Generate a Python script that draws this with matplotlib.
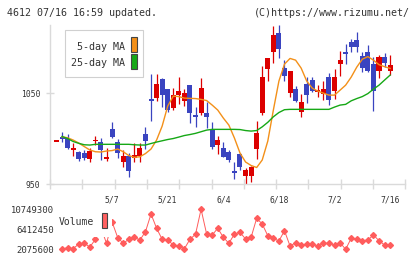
import numpy as np
import matplotlib.pyplot as plt
from matplotlib.patches import Rectangle

W, H = 420, 259
nan = np.nan

# daily candles (61 sessions, last one = 7/16)
opens = [997.0, 1002.1, 1001.0, 988.0, 985.3, 984.2, 977.9, 997.9, 996.3, 977.6,
         1010.6, 996.3, 974.6, 980.9, 979.0, 980.9, 1005.1, 1043.7, 1045.2, 1065.8,
         1054.4, 1034.1, 1048.1, 1042.0, 1059.1, 1026.1, 1028.6, 1028.6, 1009.5, 993.0,
         990.0, 985.6, 964.3, 982.7, 958.8, 958.8, 988.3, 1027.9, 1076.8, 1095.9,
         1116.8, 1078.4, 1050.0, 1054.4, 1029.7, 1060.3, 1064.7, 1051.8, 1049.2, 1067.7,
         1052.9, 1082.3, 1095.5, 1106.6, 1108.8, 1091.1, 1095.2, 1082.3, 1074.9, 1089.7,
         1074.9]
highs = [997.4, 1007.3, 1005.5, 994.9, 986.7, 987.5, 989.3, 1002.9, 1000.7, 989.3,
         1018.4, 999.3, 987.5, 983.8, 994.9, 994.9, 1013.2, 1070.9, 1070.9, 1066.9,
         1054.4, 1055.5, 1067.9, 1054.4, 1059.1, 1035.2, 1066.5, 1040.7, 1018.7, 1002.9,
         996.6, 987.5, 974.6, 983.8, 967.3, 969.8, 1019.5, 1080.1, 1089.2, 1124.2,
         1125.3, 1086.7, 1074.6, 1058.0, 1049.2, 1068.3, 1068.3, 1059.1, 1063.6, 1072.1,
         1076.5, 1096.6, 1104.4, 1109.5, 1117.3, 1095.9, 1103.2, 1090.3, 1092.2, 1094.8,
         1092.2]
lows = [997.4, 996.3, 988.6, 981.2, 975.7, 976.5, 974.6, 992.7, 976.5, 975.4,
        1000.7, 979.0, 969.1, 958.0, 974.6, 974.6, 989.0, 1019.8, 1041.5, 1035.2,
        1029.7, 1031.6, 1038.0, 1036.0, 1016.9, 1013.2, 1026.1, 1011.4, 988.3, 983.1,
        979.4, 974.6, 955.2, 965.4, 948.9, 952.5, 977.2, 1026.1, 1063.6, 1083.7,
        1089.2, 1063.6, 1046.2, 1040.8, 1024.2, 1039.6, 1051.8, 1045.6, 1042.6, 1037.1,
        1043.7, 1069.4, 1082.3, 1095.9, 1095.9, 1073.8, 1073.1, 1030.8, 1066.5, 1079.3,
        1070.2]
closes = [997.5, 999.6, 990.0, 988.6, 977.9, 979.0, 986.0, 998.5, 987.5, 979.8,
          1001.5, 984.5, 980.9, 964.7, 982.3, 990.0, 997.7, 1041.8, 1060.3, 1048.1,
          1031.6, 1048.1, 1052.9, 1050.8, 1027.9, 1024.2, 1055.5, 1024.2, 991.1, 998.5,
          980.1, 976.5, 961.8, 969.1, 965.4, 969.1, 1005.9, 1068.3, 1089.2, 1114.3,
          1098.5, 1069.4, 1074.6, 1041.9, 1040.8, 1048.1, 1052.9, 1053.6, 1054.4, 1042.6,
          1067.7, 1086.7, 1093.3, 1101.6, 1101.4, 1078.4, 1074.9, 1052.9, 1089.7, 1083.8,
          1081.2]

ma5 = [nan, 1002.1, 1001.0, 998.5, 995.2, 991.3, 987.5, 985.6, 985.3, 986.4,
       986.9, 988.6, 985.6, 981.4, 979.4, 980.1, 983.6, 988.6, 998.5, 1013.9,
       1036.0, 1047.0, 1046.5, 1044.8, 1044.5, 1044.3, 1043.4, 1042.1, 1037.1, 1031.6,
       1022.8, 1015.0, 1000.7, 984.2, 974.3, 970.4, 968.2, 976.5, 997.4, 1031.6,
       1063.6, 1082.3, 1088.6, 1086.7, 1077.9, 1063.6, 1055.8, 1052.5, 1050.3, 1048.1,
       1048.1, 1053.6, 1059.1, 1068.0, 1079.0, 1087.8, 1090.6, 1086.7, 1081.7, 1079.5,
       1077.6]
ma25 = [nan, 1002.4, 1000.2, 996.9, 994.9, 993.3, 993.0, 993.8, 993.8, 993.8,
        993.8, 993.8, 993.8, 993.8, 993.3, 993.0, 993.0, 994.7, 996.3, 997.7,
        999.1, 1000.2, 1001.8, 1003.5, 1004.6, 1005.9, 1007.7, 1009.5, 1010.3, 1010.3,
        1010.3, 1010.3, 1010.3, 1010.1, 1009.0, 1008.4, 1009.0, 1013.1, 1018.1, 1024.2,
        1028.9, 1032.0, 1032.4, 1032.4, 1032.4, 1032.4, 1032.4, 1032.4, 1032.4, 1032.4,
        1034.9, 1037.1, 1037.9, 1041.8, 1044.3, 1046.5, 1049.8, 1054.7, 1059.1, 1064.7,
        1070.2]

volume = [nan, 2140000, 2422500, 2205700, 3224900, 3376700, 2574300, 4244000, 6694300, 3376700,
          7995400, 4634300, 3376700, 4244000, 4677700, 4092200, 5892000, 9730100, 6629300, 4244000,
          4092200, 3008000, 2791200, 2205700, 4244000, 5328200, 10749300, 5393300, 5176500, 6629300,
          4677700, 3376700, 5393300, 5761900, 4309100, 4677700, 8797700, 7561700, 5024700, 4460900,
          3875400, 6108900, 2791200, 3506800, 3008000, 3224900, 3159800, 2791200, 3376700, 3376700,
          3008000, 3506800, 2075600, 4460900, 4309100, 3940500, 4092200, 5176500, 3940500, 3008000,
          3008000]

date_labels = ['5/7', '5/21', '6/4', '6/18', '7/2', '7/16']
date_idx = [10, 20, 30, 40, 50, 60]
price_ticks = [950, 1050]

UP = '#dc0000'
DOWN = '#3a44c0'
GRID = '#dadada'
TXT = '#333333'
MONO = 'DejaVu Sans Mono'


def fpos(x, y):
    # pixel position -> figure fraction
    return x / W, 1 - y / H


fig = plt.figure(figsize=(W / 100, H / 100), dpi=100)
fig.patch.set_facecolor('white')

x = np.arange(len(opens))
xlim = (-1.17, 62.73)

ax = fig.add_axes([50 / W, 1 - 184 / H, 355.3 / W, 159 / H])
for i in x:
    o, h, l, c = opens[i], highs[i], lows[i], closes[i]
    col = UP if c >= o else DOWN
    ax.vlines(i, l, h, color=col, lw=0.9, zorder=2)
    lo, hi = min(o, c), max(o, c)
    if hi - lo < 1.8:
        mid = (hi + lo) / 2
        lo, hi = mid - 0.9, mid + 0.9
    ax.add_patch(Rectangle((i - 0.45, lo), 0.9, hi - lo, fc=col, ec='none', zorder=3))

ax.plot(x, ma5, color='#f39019', lw=1.0, zorder=4)
ax.plot(x, ma25, color='#16a816', lw=1.0, zorder=4)

ax.set_xlim(*xlim)
ax.set_ylim(950, 1125.5)
for s in ['top', 'right']:
    ax.spines[s].set_visible(False)
for s in ['left', 'bottom']:
    ax.spines[s].set_color(GRID)
    ax.spines[s].set_linewidth(1.0)

ax.set_xticks(np.linspace(xlim[0], xlim[1], 12))
ax.set_xticklabels([])
ax.set_xticks(date_idx, minor=True)
ax.set_xticklabels(date_labels, minor=True)
ax.tick_params(axis='x', which='major', direction='inout', length=6.5, width=1.0, color=GRID)
ax.tick_params(axis='x', which='minor', length=0, pad=8, labelsize=5.8, labelcolor=TXT)
ax.set_yticks(price_ticks)
ax.set_yticklabels([str(p) for p in price_ticks])
ax.tick_params(axis='y', direction='inout', length=6, width=1.0, color=GRID,
               labelsize=5.8, labelcolor=TXT, pad=4)
for lab in ax.get_xticklabels(minor=True) + ax.get_yticklabels():
    lab.set_family(MONO)

# volume panel
vmin, vmax = np.nanmin(volume), np.nanmax(volume)
vax = fig.add_axes([50 / W, 1 - 249.3 / H, 355.3 / W, 40 / H])
vax.plot(x, volume, color='#ff5c5c', lw=0.7, marker='D', ms=3.0, mec='#ff5c5c',
         mfc='#ff5c5c', clip_on=False)
vax.set_xlim(*xlim)
vax.set_ylim(vmin, vmax)
for s in vax.spines.values():
    s.set_visible(False)
vax.set_xticks([])
vticks = [vmin, (vmin + vmax) / 2, vmax]
vax.set_yticks(vticks)
vax.set_yticklabels([f'{int(v)}' for v in vticks])
vax.tick_params(axis='y', length=0, pad=-2.6, labelsize=6.4, labelcolor=TXT)
for lab in vax.get_yticklabels():
    lab.set_family(MONO)
    lab.set_horizontalalignment('right')

# volume legend
x0, y0 = fpos(55, 237)
x1, y1 = fpos(112, 210)
fig.add_artist(Rectangle((x0, y0), x1 - x0, y1 - y0, transform=fig.transFigure,
                         fc='white', ec='none', zorder=5))
fig.text(*fpos(58.5, 221.7), 'Volume', ha='left', va='center', fontsize=7,
         family=MONO, color=TXT, zorder=6)
bx0, by0 = fpos(101.7, 228.3)
bx1, by1 = fpos(107.3, 213.3)
fig.add_artist(Rectangle((bx0, by0), bx1 - bx0, by1 - by0, transform=fig.transFigure,
                         fc='#ff6060', ec='#444444', lw=0.8, zorder=6))

# MA legend
lx0, ly0 = fpos(65, 77)
lx1, ly1 = fpos(143, 30)
fig.add_artist(Rectangle((lx0, ly0), lx1 - lx0, ly1 - ly0, transform=fig.transFigure,
                         fc='white', ec='#d0d0d0', lw=0.8, zorder=5))
for label, col, ty, top, bot in [('5-day MA', '#f39019', 46.7, 37, 52),
                                 ('25-day MA', '#16a816', 63.3, 54, 69)]:
    fig.text(*fpos(125, ty), label, ha='right', va='center', fontsize=7.2,
             family=MONO, color=TXT, zorder=6)
    rx0, ry0 = fpos(131, bot)
    rx1, ry1 = fpos(137, top)
    fig.add_artist(Rectangle((rx0, ry0), rx1 - rx0, ry1 - ry0, transform=fig.transFigure,
                             fc=col, ec='#444444', lw=0.8, zorder=6))

fig.text(*fpos(7, 13), '4612 07/16 16:59 updated.', ha='left', va='center',
         fontsize=7.2, family=MONO, color=TXT)
fig.text(*fpos(409.5, 13), '(C)https://www.rizumu.net/', ha='right', va='center',
         fontsize=7.2, family=MONO, color=TXT)

fig.savefig('out.png', dpi=100, facecolor='white')
